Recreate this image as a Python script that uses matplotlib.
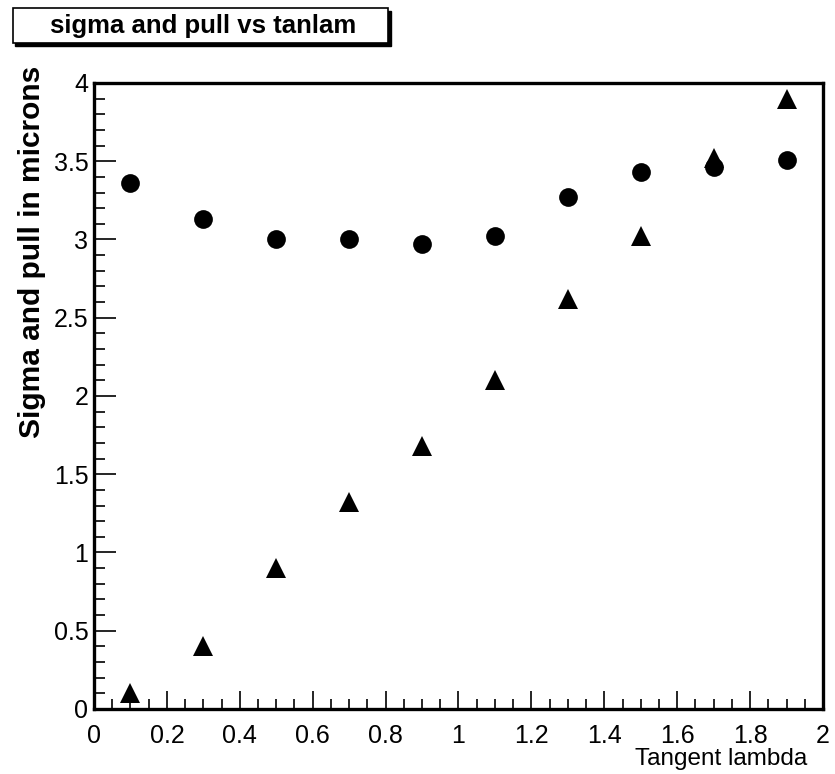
import matplotlib.pyplot as plt
from matplotlib.ticker import MultipleLocator
from matplotlib.patches import Rectangle

plt.rcParams['font.family'] = ['Liberation Sans', 'DejaVu Sans']

# tan(lambda) bins
tanlam = [0.1, 0.3, 0.5, 0.7, 0.9, 1.1, 1.3, 1.5, 1.7, 1.9]
# sigma (circles) and pull (triangles)
sigma = [3.36, 3.13, 3.00, 3.00, 2.97, 3.02, 3.27, 3.43, 3.46, 3.51]
pull = [0.10, 0.40, 0.90, 1.32, 1.68, 2.10, 2.62, 3.02, 3.52, 3.90]

fig = plt.figure(figsize=(8.35, 7.74), dpi=100)
ax = fig.add_axes([0.1126, 0.0840, 0.8730, 0.8088])

ax.plot(tanlam, sigma, linestyle='none', marker='o', markersize=13.5,
        color='black', markeredgewidth=0)
ax.plot(tanlam, pull, linestyle='none', marker='^', markersize=14,
        color='black', markeredgewidth=0)

ax.set_xlim(0, 2)
ax.set_ylim(0, 4)
ax.xaxis.set_major_locator(MultipleLocator(0.2))
ax.xaxis.set_minor_locator(MultipleLocator(0.05))
ax.yaxis.set_major_locator(MultipleLocator(0.5))
ax.yaxis.set_minor_locator(MultipleLocator(0.1))
ax.xaxis.set_major_formatter(plt.FuncFormatter(lambda v, p: '%g' % round(v, 2)))
ax.yaxis.set_major_formatter(plt.FuncFormatter(lambda v, p: '%g' % round(v, 2)))

ax.tick_params(which='both', direction='in', top=False, right=False,
               width=1.2, labelsize=18, colors='black')
ax.tick_params(axis='x', which='major', length=13, pad=11)
ax.tick_params(axis='x', which='minor', length=7)
ax.tick_params(axis='y', which='major', length=16, pad=4)
ax.tick_params(axis='y', which='minor', length=8)

for sp in ax.spines.values():
    sp.set_linewidth(2.4)

ax.set_ylabel('Sigma and pull in microns', fontsize=21.5, fontweight='bold')
ax.yaxis.set_label_coords(-0.066, 0.73)
ax.text(0.979, -0.08, 'Tangent lambda', transform=ax.transAxes, ha='right',
        va='center', fontsize=17.5)

# title box with shadow, ROOT style
fig.patches.append(Rectangle((0.018, 0.940), 0.450, 0.046,
                             transform=fig.transFigure, facecolor='black',
                             edgecolor='black'))
fig.patches.append(Rectangle((0.015, 0.944), 0.450, 0.046,
                             transform=fig.transFigure, facecolor='white',
                             edgecolor='black', linewidth=1.2))
fig.text(0.243, 0.966, 'sigma and pull vs tanlam', ha='center', va='center',
         fontsize=18.5, fontweight='bold')

fig.savefig('out.png', dpi=100)
